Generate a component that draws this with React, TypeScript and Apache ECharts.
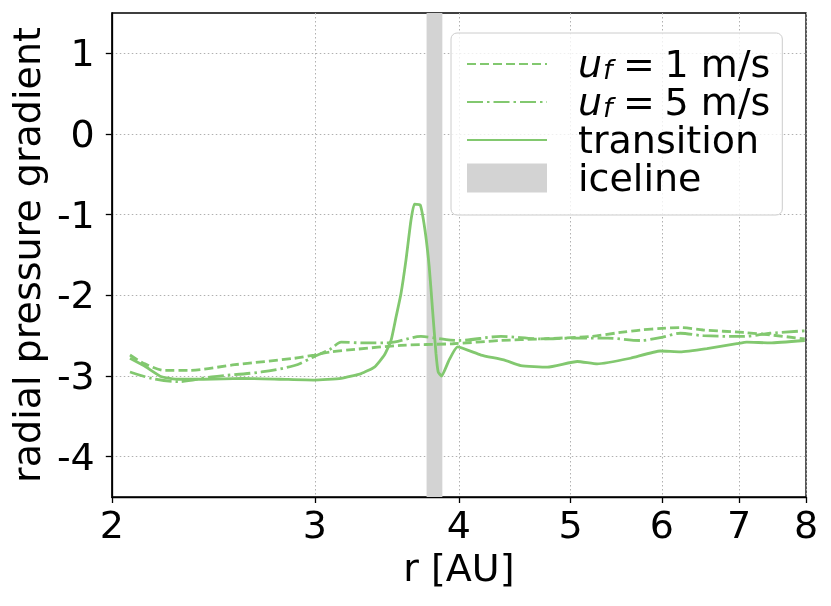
import React, { useEffect, useRef } from "react";
import * as echarts from "echarts";

const X_TICKS = [2, 3, 4, 5, 6, 7, 8];
const Y_TICKS = [-4, -3, -2, -1, 0, 1];

const R_UF1 = [2.074, 2.137, 2.224, 2.33, 2.557, 2.881, 2.996, 3.1, 3.25, 3.563, 3.95, 4.349, 4.709, 5.2, 5.523, 5.748, 6.0, 6.224, 6.516, 7.056, 7.446, 7.98];
const G_UF1 = [-2.74, -2.85, -2.93, -2.93, -2.86, -2.78, -2.74, -2.7, -2.67, -2.62, -2.6, -2.56, -2.54, -2.51, -2.46, -2.43, -2.41, -2.4, -2.43, -2.46, -2.49, -2.54];

const R_UF5 = [2.074, 2.166, 2.284, 2.441, 2.696, 2.881, 2.996, 3.1, 3.162, 3.3, 3.47, 3.708, 3.9, 4.0, 4.349, 4.709, 5.03, 5.382, 5.748, 6.0, 6.224, 6.516, 7.056, 7.446, 7.98];
const G_UF5 = [-2.95, -3.03, -3.07, -3.01, -2.95, -2.87, -2.76, -2.66, -2.58, -2.59, -2.59, -2.51, -2.55, -2.56, -2.51, -2.54, -2.53, -2.53, -2.56, -2.52, -2.47, -2.5, -2.51, -2.47, -2.44];

const R_TR = [2.074, 2.137, 2.209, 2.284, 2.4, 2.6, 2.8, 2.996, 3.162, 3.291, 3.379, 3.447, 3.493, 3.528, 3.563, 3.599, 3.635, 3.66, 3.703, 3.738, 3.77, 3.795, 3.821, 3.838, 3.864, 3.923, 3.989, 4.18, 4.375, 4.526, 4.773, 5.067, 5.273, 5.634, 5.98, 6.224, 6.564, 6.968, 7.108, 7.446, 7.98];
const G_TR = [-2.78, -2.88, -3.01, -3.04, -3.04, -3.03, -3.04, -3.05, -3.03, -2.97, -2.89, -2.74, -2.56, -2.27, -1.98, -1.56, -1.07, -0.87, -0.88, -1.19, -1.65, -2.18, -2.72, -2.95, -3.0, -2.8, -2.64, -2.74, -2.8, -2.87, -2.89, -2.82, -2.85, -2.78, -2.69, -2.7, -2.66, -2.6, -2.58, -2.59, -2.56];

const ICELINE = [3.75, 3.87];

const SERIES_NAMES = ["u_f = 1 m/s", "u_f = 5 m/s", "transition", "iceline"];

const GREEN = "#82c86f";
const FONT = "DejaVu Sans";

const pairs = (xs: number[], ys: number[]) => xs.map((x, i) => [x, ys[i]]);

export default function App() {
  const ref = useRef<HTMLDivElement>(null);
  useEffect(() => {
    if (!ref.current) return;
    const chart = echarts.init(ref.current, undefined, { renderer: "svg" });
    const gridLine = { show: true, lineStyle: { color: "#b0b0b0", type: [1.5, 2.5], width: 1 } };
    const option: any = {
      animation: false,
      grid: { left: 110, right: 25, top: 13, bottom: 109, show: true, borderColor: "#000", borderWidth: 1.3, backgroundColor: "transparent" },
      xAxis: {
        type: "log",
        logBase: 10,
        min: 2,
        max: 8,
        name: "r [AU]",
        nameLocation: "middle",
        nameGap: 50,
        nameTextStyle: { fontFamily: FONT, fontSize: 38, color: "#000" },
        axisLine: { show: true, onZero: false, lineStyle: { color: "#000", width: 1.3 } },
        axisTick: { show: true, inside: false, length: 6, customValues: X_TICKS, lineStyle: { color: "#000", width: 1.3 } },
        axisLabel: { customValues: X_TICKS, margin: 9, fontFamily: FONT, fontSize: 38, color: "#000", formatter: (v: number) => String(Math.round(v)) },
        splitLine: gridLine,
        minorTick: { show: false },
        minorSplitLine: { show: false },
      },
      yAxis: {
        type: "value",
        min: -4.5,
        max: 1.5,
        name: "radial pressure gradient",
        nameLocation: "middle",
        nameRotate: 90,
        nameGap: 58,
        nameTextStyle: { fontFamily: FONT, fontSize: 38, color: "#000" },
        axisLine: { show: true, onZero: false, lineStyle: { color: "#000", width: 1.3 } },
        axisTick: { show: true, inside: false, length: 6, customValues: Y_TICKS, lineStyle: { color: "#000", width: 1.3 } },
        axisLabel: { customValues: Y_TICKS, margin: 17, fontFamily: FONT, fontSize: 38, color: "#000" },
        splitLine: gridLine,
      },
      legend: {
        show: true,
        orient: "vertical",
        left: 451,
        top: 33,
        padding: [12, 12, 18, 15],
        itemWidth: 80,
        itemHeight: 29,
        itemGap: 0,
        selectedMode: false,
        backgroundColor: "rgba(255,255,255,0.8)",
        borderColor: "#cccccc",
        borderWidth: 1,
        borderRadius: 6,
        itemStyle: { opacity: 0 },
        data: [
          { name: SERIES_NAMES[0] },
          { name: SERIES_NAMES[1] },
          { name: SERIES_NAMES[2] },
          { name: SERIES_NAMES[3], icon: "rect", itemStyle: { opacity: 1, color: "#d3d3d3" } },
        ],
        textStyle: {
          fontFamily: FONT,
          fontSize: 38,
          color: "#000",
          lineHeight: 38,
          rich: {
            sp: { width: 26, fontSize: 38, lineHeight: 38 },
            u: { fontStyle: "italic", fontFamily: FONT, fontSize: 38, lineHeight: 38, color: "#000" },
            f: { fontStyle: "italic", fontFamily: FONT, fontSize: 27, lineHeight: 22, verticalAlign: "bottom", padding: [0, 1, 0, 1], color: "#000" },
            t: { fontFamily: FONT, fontSize: 38, lineHeight: 38, color: "#000" },
          },
        },
        formatter: (name: string) => {
          if (name.startsWith("u_f")) {
            const rest = name.slice(3).replace(" = ", "\u2005=\u2005");
            return `{sp| }{u|u}{f|f}{t|${rest}}`;
          }
          return `{sp| }{t|${name}}`;
        },
      },
      series: [
        {
          name: SERIES_NAMES[0],
          type: "line",
          data: pairs(R_UF1, G_UF1),
          symbol: "none",
          smooth: 0.3,
          lineStyle: { color: GREEN, width: 2.8, type: [9, 4] },
          itemStyle: { color: GREEN },
          z: 3,
        },
        {
          name: SERIES_NAMES[1],
          type: "line",
          data: pairs(R_UF5, G_UF5),
          symbol: "none",
          smooth: 0.3,
          lineStyle: { color: GREEN, width: 2.8, type: [16, 4, 2.5, 4] },
          itemStyle: { color: GREEN },
          z: 3,
        },
        {
          name: SERIES_NAMES[2],
          type: "line",
          data: pairs(R_TR, G_TR),
          symbol: "none",
          smooth: 0.15,
          lineStyle: { color: GREEN, width: 2.8 },
          itemStyle: { color: GREEN },
          z: 3,
        },
        {
          name: SERIES_NAMES[3],
          type: "line",
          data: [],
          symbol: "none",
          itemStyle: { color: "#d3d3d3" },
          lineStyle: { color: "#d3d3d3" },
          markArea: {
            silent: true,
            itemStyle: { color: "#d3d3d3", opacity: 1 },
            data: [[{ xAxis: ICELINE[0] }, { xAxis: ICELINE[1] }]],
          },
          z: 2,
        },
      ],
    };
    chart.setOption(option);
    return () => chart.dispose();
  }, []);
  return <div ref={ref} style={{ position: "fixed", left: 0, top: 0, width: 831, height: 606 }} />;
}
